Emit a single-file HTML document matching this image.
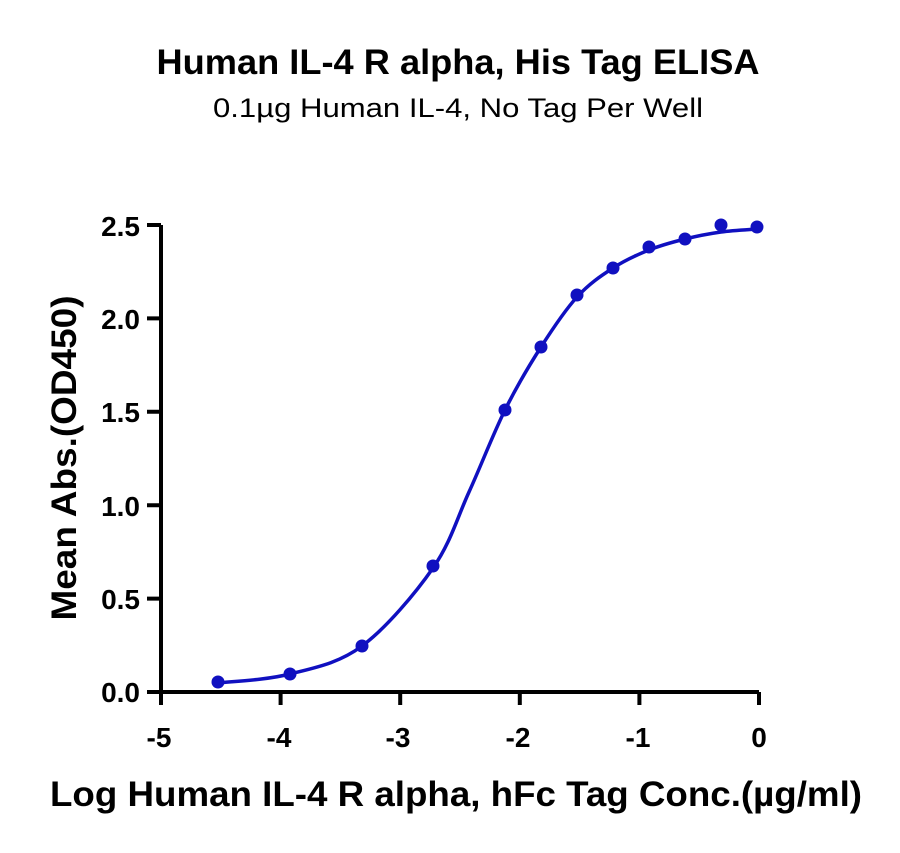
<!DOCTYPE html>
<html><head><meta charset="utf-8"><style>
body{margin:0;background:#fff;}
svg text{font-family:"Liberation Sans",sans-serif;}
</style></head><body>
<svg width="900" height="848" viewBox="0 0 900 848" xmlns="http://www.w3.org/2000/svg">
<text x="458" y="74" text-anchor="middle" font-size="35" font-weight="bold" fill="#000" textLength="603" lengthAdjust="spacingAndGlyphs">Human IL-4 R alpha, His Tag ELISA</text>
<text x="458" y="117" text-anchor="middle" font-size="27" fill="#000" textLength="490" lengthAdjust="spacingAndGlyphs">0.1µg Human IL-4, No Tag Per Well</text>
<g stroke="#000" stroke-width="4" fill="none">
<path d="M161 225 V692 H759"/>
<path d="M147 225H161M147 318.4H161M147 411.8H161M147 505.2H161M147 598.6H161M147 692H161"/>
<path d="M161 692V705M280.6 692V705M400.2 692V705M519.8 692V705M639.4 692V705M759 692V705"/>
</g>
<g font-size="28" font-weight="bold" text-anchor="end" fill="#000">
<text x="140" y="236">2.5</text><text x="140" y="329">2.0</text><text x="140" y="422">1.5</text>
<text x="140" y="516">1.0</text><text x="140" y="609">0.5</text><text x="140" y="702">0.0</text>
</g>
<g font-size="28" font-weight="bold" text-anchor="middle" fill="#000">
<text x="159" y="747">-5</text><text x="279" y="747">-4</text><text x="398" y="747">-3</text>
<text x="518" y="747">-2</text><text x="638" y="747">-1</text><text x="759" y="747">0</text>
</g>
<text x="456" y="806" text-anchor="middle" font-size="35" font-weight="bold" fill="#000" textLength="812" lengthAdjust="spacingAndGlyphs">Log Human IL-4 R alpha, hFc Tag Conc.(µg/ml)</text>
<text transform="translate(76 458) rotate(-90)" text-anchor="middle" font-size="35" font-weight="bold" fill="#000" textLength="325" lengthAdjust="spacingAndGlyphs">Mean Abs.(OD450)</text>
<path fill="none" stroke="#1010c0" stroke-width="3.5" d="M218 683 C230 681.5 266 680.2 290 674 C314 667.8 338.2 663.7 362 646 C385.8 628.3 415.2 593.7 433 568 C450.8 542.3 457 518.3 469 492 C481 465.7 493 434.2 505 410 C517 385.8 529 365.8 541 347 C553 328.2 565 310.2 577 297 C589 283.8 601 275.8 613 268 C625 260.2 637 254.8 649 250 C661 245.2 673 242 685 239 C697 236 709 233.7 721 232 C733 230.3 751 229.5 757 229"/>
<g fill="#1010c0">
<circle cx="218" cy="682" r="6.5"/><circle cx="290" cy="674" r="6.5"/><circle cx="362" cy="646" r="6.5"/>
<circle cx="433" cy="566" r="6.5"/><circle cx="505" cy="410" r="6.5"/><circle cx="541" cy="347" r="6.5"/>
<circle cx="577" cy="295" r="6.5"/><circle cx="613" cy="268" r="6.5"/><circle cx="649" cy="247" r="6.5"/>
<circle cx="685" cy="239" r="6.5"/><circle cx="721" cy="225" r="6.5"/><circle cx="757" cy="227" r="6.5"/>
</g>
</svg>
</body></html>
